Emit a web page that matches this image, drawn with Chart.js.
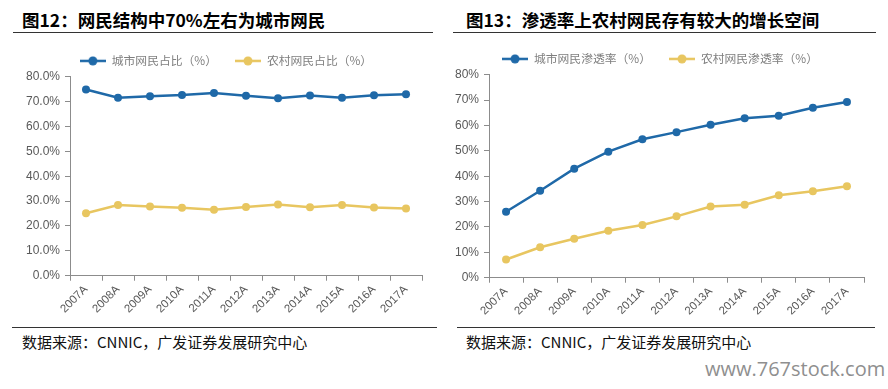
<!DOCTYPE html>
<html>
<head>
<meta charset="utf-8">
<script src="https://cdn.jsdelivr.net/npm/chart.js@4.4.0/dist/chart.umd.min.js"></script>
<style>
  body { margin: 0; width: 888px; height: 389px; background: #fff; position: relative; overflow: hidden; font-family: "Noto Sans CJK SC", sans-serif; }
  .title { position: absolute; top: 11px; font-size: 17.5px; line-height: 1; font-weight: bold; color: #000; white-space: nowrap; }
  .rule { position: absolute; height: 0; border-top: 1.5px solid #333; }
  .src { position: absolute; top: 334px; font-size: 15px; line-height: 1; color: #111; white-space: nowrap; }
  .box { position: absolute; width: 444px; }
  .mark { position: absolute; left: 705px; top: 359px; font-family: "Open Sans", sans-serif; font-size: 20px; line-height: 1; color: #8f8f8f; }
</style>
</head>
<body>
<div class="title" style="left:22px">图12：网民结构中70%左右为城市网民</div>
<div class="rule" style="left:13px;width:420px;top:32px"></div>
<div class="title" style="left:466px">图13：渗透率上农村网民存有较大的增长空间</div>
<div class="rule" style="left:453px;width:423px;top:32px"></div>

<div class="box" style="left:0;top:37px;height:281px"><canvas id="chart1"></canvas></div>
<div class="box" style="left:444px;top:35px;height:285px"><canvas id="chart2"></canvas></div>

<div class="rule" style="left:12px;width:425px;top:327px"></div>
<div class="rule" style="left:457px;width:418px;top:327px"></div>
<div class="src" style="left:22px">数据来源：CNNIC，广发证券发展研究中心</div>
<div class="src" style="left:466px">数据来源：CNNIC，广发证券发展研究中心</div>
<div class="mark">www.767stock.com</div>

<script>
// ===== データ =====
const years = ['2007A', '2008A', '2009A', '2010A', '2011A', '2012A', '2013A', '2014A', '2015A', '2016A', '2017A'];

// 図12: 網民構成 (%)
const cityShare  = [74.9, 71.6, 72.2, 72.7, 73.5, 72.4, 71.4, 72.5, 71.6, 72.6, 73.0];
const ruralShare = [25.1, 28.4, 27.8, 27.3, 26.5, 27.6, 28.6, 27.5, 28.4, 27.4, 27.0];

// 図13: 浸透率 (%)
const cityRate  = [26.0, 34.3, 43.0, 49.7, 54.6, 57.4, 60.3, 62.9, 63.9, 67.0, 69.3];
const ruralRate = [7.2, 12.0, 15.4, 18.5, 20.8, 24.2, 28.1, 28.8, 32.5, 34.1, 36.1];

const BLUE = '#1f69a8';
const YELLOW = '#e8c660';
const AXIS = '#8c8c8c';
const TICK = '#595959';

// 凡例用のマーカー（線＋丸）
function legendMarker(color) {
    const c = document.createElement('canvas');
    c.width = 26;
    c.height = 10;
    const g = c.getContext('2d');
    g.strokeStyle = color;
    g.lineWidth = 2.5;
    g.beginPath();
    g.moveTo(0, 5);
    g.lineTo(26, 5);
    g.stroke();
    g.fillStyle = color;
    g.beginPath();
    g.arc(13, 5, 4.5, 0, Math.PI * 2);
    g.fill();
    return c;
}

// 凡例を横にずらすプラグイン
const legendShift = {
    id: 'legendShift',
    afterLayout(chart, args, opts) {
        if (chart.legend && opts.dx) {
            chart.legend.left += opts.dx;
            chart.legend.right += opts.dx;
        }
    }
};

function makeChart(id, names, city, rural, yWidth, padR, dx, fmt) {
    const ds = (label, data, color) => ({
        label: label,
        data: data,
        borderColor: color,
        backgroundColor: color,
        borderWidth: 2.5,
        pointStyle: 'circle',
        pointRadius: 4,
        pointHoverRadius: 4,
        pointBackgroundColor: color,
        pointBorderWidth: 0,
        tension: 0
    });
    return new Chart(document.getElementById(id), {
        type: 'line',
        data: {
            labels: years,
            datasets: [ds(names[0], city, BLUE), ds(names[1], rural, YELLOW)]
        },
        plugins: [legendShift],
        options: {
            responsive: true,
            maintainAspectRatio: false,
            animation: false,
            layout: { padding: { left: 0, right: padR, top: 0, bottom: 0 } },
            plugins: {
                tooltip: { enabled: false },
                legendShift: { dx: dx },
                legend: {
                    position: 'top',
                    labels: {
                        usePointStyle: true,
                        pointStyleWidth: 26,
                        padding: 18,
                        color: '#7f7f7f',
                        font: { family: '"Noto Sans CJK SC", sans-serif', size: 11.8 },
                        generateLabels: chart => chart.data.datasets.map((d, i) => ({
                            text: d.label,
                            pointStyle: legendMarker(d.borderColor),
                            fillStyle: d.borderColor,
                            strokeStyle: d.borderColor,
                            lineWidth: 0,
                            fontColor: '#7f7f7f',
                            datasetIndex: i
                        }))
                    }
                }
            },
            scales: {
                x: {
                    offset: true,
                    grid: { offset: true, drawOnChartArea: false, drawTicks: true, tickLength: 5, color: AXIS },
                    border: { color: AXIS, width: 1 },
                    ticks: {
                        minRotation: 45,
                        maxRotation: 45,
                        padding: 2,
                        color: TICK,
                        font: { family: 'Arial, "Liberation Sans", sans-serif', size: 11.5 }
                    }
                },
                y: {
                    min: 0,
                    max: 80,
                    afterFit: s => { s.width = yWidth; },
                    grid: { drawOnChartArea: false, drawTicks: true, tickLength: 5, color: AXIS },
                    border: { color: AXIS, width: 1 },
                    ticks: {
                        stepSize: 10,
                        padding: 5,
                        color: TICK,
                        font: { family: 'Arial, "Liberation Sans", sans-serif', size: 12 },
                        callback: fmt
                    }
                }
            }
        }
    });
}

makeChart('chart1', ['城市网民占比（%）', '农村网民占比（%）'], cityShare, ruralShare, 70, 22, 15, v => v.toFixed(1) + '%');
makeChart('chart2', ['城市网民渗透率（%）', '农村网民渗透率（%）'], cityRate, ruralRate, 45, 24, 6, v => v + '%');
</script>
</body>
</html>
